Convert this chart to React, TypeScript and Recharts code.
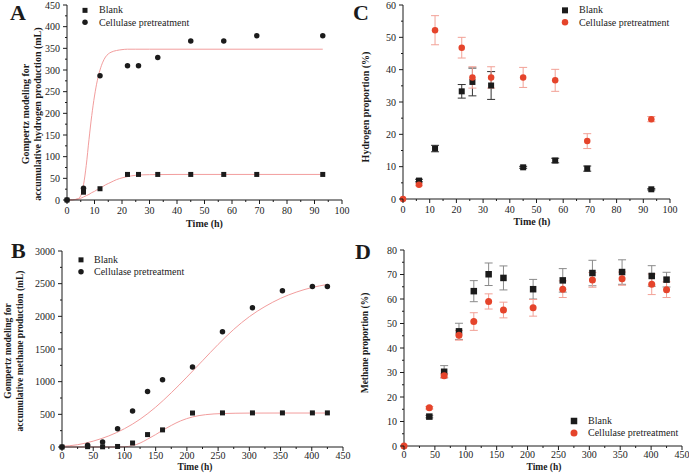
import React from 'react';
import { ComposedChart, Scatter, Line, XAxis, YAxis, ErrorBar, Legend } from 'recharts';

const FONT = '"Liberation Serif", "Times New Roman", Times, serif';
const INK = '#1b1b1b';
const RED = '#e5442b';
const RED_ERR = '#f2a196';
const FIT = '#f29d9d';

// A - accumulative hydrogen (Gompertz)
const aTime = [0, 6, 12, 22, 26, 33, 45, 57, 69, 93];
const aBlank = [0, 18, 26, 59, 59, 59, 59, 59, 59, 59];
const aCell = [0, 27, 287, 310, 310, 329, 367, 367, 379, 379];
const aFitTime = [0, 2, 4, 5, 6, 7, 8, 9, 10, 11, 12, 13, 14, 15, 16, 18, 20, 22, 25, 30, 40, 60, 93];
const aBlankFit = [0, 0.5, 2, 4, 7, 10, 13, 17, 20, 24, 28, 31, 35, 38, 41, 47, 51, 54, 57, 58.5, 59, 59, 59];
const aCellFit = [0, 0.5, 3, 10, 35, 80, 140, 195, 240, 275, 300, 318, 330, 337, 341, 345, 347, 348, 348, 348, 348, 348, 348];
const aXTicks = [0, 5, 10, 15, 20, 25, 30, 35, 40, 45, 50, 55, 60, 65, 70, 75, 80, 85, 90, 95, 100];
const aYTicks = [0, 25, 50, 75, 100, 125, 150, 175, 200, 225, 250, 275, 300, 325, 350, 375, 400, 425, 450];

// B - accumulative methane (Gompertz)
const bTime = [0, 41, 65, 89, 113, 137, 161, 209, 257, 305, 353, 401, 425];
const bBlank = [0, 5, 3, 8, 61, 190, 262, 520, 522, 522, 522, 522, 522];
const bCell = [0, 25, 75, 278, 550, 850, 1030, 1225, 1765, 2130, 2390, 2455, 2455];
const bBlankFitTime = [0, 50, 90, 100, 113, 125, 137, 150, 161, 175, 190, 209, 230, 257, 300, 350, 425];
const bBlankFit = [0, 0, 0, 3, 20, 60, 120, 190, 255, 330, 400, 460, 495, 512, 519, 520, 520];
const bCellFitTime = [0, 25, 50, 75, 100, 125, 150, 175, 200, 225, 250, 275, 300, 325, 350, 375, 400, 425];
const bCellFit = [10, 35, 90, 170, 280, 425, 610, 830, 1070, 1320, 1570, 1800, 1995, 2150, 2275, 2370, 2440, 2488];
const bXTicks = [0, 25, 50, 75, 100, 125, 150, 175, 200, 225, 250, 275, 300, 325, 350, 375, 400, 425, 450];
const bYTicks = [0, 250, 500, 750, 1000, 1250, 1500, 1750, 2000, 2250, 2500, 2750, 3000];

// C - hydrogen proportion
const cBlankTime = [6, 12, 22, 26, 33, 45, 57, 69, 93];
const cBlank = [5.7, 15.6, 33.3, 36.2, 35.1, 9.8, 11.9, 9.4, 3.0];
const cBlankErr = [0.4, 1.0, 2.1, 4.3, 4.3, 0.3, 0.7, 0.8, 0.2];
const cCellTime = [0, 6, 12, 22, 26, 33, 45, 57, 69, 93];
const cCell = [0, 4.4, 52.2, 46.8, 37.6, 37.6, 37.6, 36.7, 17.9, 24.7];
const cCellErr = [0, 0.3, 4.5, 3.2, 3.3, 3.3, 3.1, 3.4, 2.3, 0.8];
const cXTicks = aXTicks;
const cYTicks = [0, 5, 10, 15, 20, 25, 30, 35, 40, 45, 50, 55, 60];

// D - methane proportion
const dBlankTime = [41, 65, 89, 113, 137, 161, 209, 257, 305, 353, 401, 425];
const dBlank = [12.0, 30.3, 46.8, 63.2, 70.1, 68.6, 64.0, 67.6, 70.6, 71.0, 69.4, 67.9];
const dBlankErr = [0.5, 2.5, 3.3, 4.3, 4.6, 4.9, 4.0, 4.8, 5.2, 5.0, 4.2, 3.0];
const dCellTime = [0, 41, 65, 89, 113, 137, 161, 209, 257, 305, 353, 401, 425];
const dCell = [0, 15.6, 28.7, 45.2, 50.8, 59.0, 55.5, 56.4, 64.0, 67.8, 68.3, 66.0, 63.8];
const dCellErr = [0, 0.5, 0.8, 2.0, 3.6, 3.1, 3.2, 3.4, 3.4, 3.0, 2.7, 4.2, 3.2];
const dXTicks = bXTicks;
const dYTicks = [0, 5, 10, 15, 20, 25, 30, 35, 40, 45, 50, 55, 60, 65, 70, 75, 80];

const zip = (xs: number[], ys: number[], es?: number[]) =>
  xs.map((x, i) => ({ x, y: ys[i], e: es ? es[i] : 0 }));

const isMajor = (v: number, step: number) => Math.abs(v / step - Math.round(v / step)) < 1e-6;

const XTick = (props: any) => {
  const { x, y, payload, step, labelDy } = props;
  const v = payload.value;
  const major = isMajor(v, step);
  return (
    <g>
      <line x1={x} x2={x} y1={y} y2={y + (major ? 4 : 2)} stroke={INK} strokeWidth={1} />
      {major && (
        <text x={x} y={y + labelDy} textAnchor="middle" dominantBaseline="central" fontSize={10} fontFamily={FONT} fill={INK}>
          {v}
        </text>
      )}
    </g>
  );
};

const YTick = (props: any) => {
  const { x, y, payload, step } = props;
  const v = payload.value;
  const major = isMajor(v, step);
  return (
    <g>
      <line x1={x - (major ? 4 : 2)} x2={x} y1={y} y2={y} stroke={INK} strokeWidth={1} />
      {major && (
        <text x={x - 7} y={y} textAnchor="end" dominantBaseline="central" fontSize={10} fontFamily={FONT} fill={INK}>
          {v}
        </text>
      )}
    </g>
  );
};

const marker = (kind: string, size: number, color: string) => (p: any) =>
  kind === 'square' ? (
    <rect x={p.cx - size / 2} y={p.cy - size / 2} width={size} height={size} fill={color} />
  ) : (
    <circle cx={p.cx} cy={p.cy} r={size / 2} fill={color} />
  );

const LegendBox = ({ items, rowH, iconW }: any) => (
  <div style={{ fontFamily: FONT, fontSize: 10, color: INK }}>
    {items.map((it: any) => (
      <div key={it.label} style={{ display: 'flex', alignItems: 'center', height: rowH, whiteSpace: 'nowrap' }}>
        <svg width={iconW} height={rowH} style={{ display: 'block' }}>
          {it.kind === 'square' ? (
            <rect x={6 - it.size / 2} y={rowH / 2 - it.size / 2} width={it.size} height={it.size} fill={it.color} />
          ) : (
            <circle cx={6} cy={rowH / 2} r={it.size / 2} fill={it.color} />
          )}
        </svg>
        <span style={{ lineHeight: 1 }}>{it.label}</span>
      </div>
    ))}
  </div>
);

function Panel(cfg: any) {
  const {
    box, margin, yWidth, xHeight, xMax, yMax, xTicks, yTicks, xStep, yStep,
    fits, series, legend, xTitle, yTitle, labelDy, titleSize,
  } = cfg;
  const titleStyle = { fontFamily: FONT, fontWeight: 700, fontSize: titleSize, fill: INK };
  return (
    <div style={{ position: 'absolute', left: box.left, top: box.top, width: box.width, height: box.height }}>
      <ComposedChart width={box.width} height={box.height} margin={margin}>
        <XAxis
          type="number"
          dataKey="x"
          domain={[0, xMax]}
          ticks={xTicks}
          interval={0}
          height={xHeight}
          tickSize={0}
          tickMargin={0}
          tickLine={false}
          axisLine={{ stroke: INK }}
          tick={(p: any) => <XTick {...p} step={xStep} labelDy={labelDy} />}
          label={{
            content: () => (
              <text x={xTitle.x} y={xTitle.y} textAnchor="middle" dominantBaseline="central" {...titleStyle}>
                Time (h)
              </text>
            ),
          }}
        />
        <YAxis
          type="number"
          dataKey="y"
          domain={[0, yMax]}
          ticks={yTicks}
          interval={0}
          width={yWidth}
          tickSize={0}
          tickMargin={0}
          tickLine={false}
          axisLine={{ stroke: INK }}
          tick={(p: any) => <YTick {...p} step={yStep} />}
          label={{
            content: () => (
              <g>
                {yTitle.lines.map((l: string, i: number) => (
                  <text
                    key={l}
                    x={yTitle.xs[i]}
                    y={yTitle.cy}
                    transform={`rotate(-90 ${yTitle.xs[i]} ${yTitle.cy})`}
                    textAnchor="middle"
                    dominantBaseline="central"
                    {...titleStyle}
                  >
                    {l}
                  </text>
                ))}
              </g>
            ),
          }}
        />
        {fits.map((f: any, i: number) => (
          <Line
            key={'fit' + i}
            data={f}
            dataKey="y"
            type="monotone"
            stroke={FIT}
            strokeWidth={1}
            dot={false}
            activeDot={false}
            isAnimationActive={false}
          />
        ))}
        {series.map((s: any, i: number) => (
          <Scatter
            key={'s' + i}
            name={s.name}
            data={s.data}
            dataKey="y"
            shape={marker(s.kind, s.size, s.color)}
            isAnimationActive={false}
          >
            {s.errColor && <ErrorBar dataKey="e" direction="y" width={4} stroke={s.errColor} strokeWidth={1} />}
          </Scatter>
        ))}
        <Legend
          layout="vertical"
          align="center"
          verticalAlign="middle"
          wrapperStyle={{ left: legend.left, top: legend.top, width: 'auto', height: 'auto' }}
          content={() => <LegendBox items={legend.items} rowH={legend.rowH} iconW={legend.iconW} />}
        />
      </ComposedChart>
    </div>
  );
}

const legendItems = (size: number, cellColor: string, sqSize: number) => [
  { label: 'Blank', kind: 'square', color: INK, size: sqSize },
  { label: 'Cellulase pretreatment', kind: 'circle', color: cellColor, size },
];

export default function App() {
  return (
    <div style={{ position: 'absolute', left: 0, top: 0, width: 689, height: 473, background: '#fff', overflow: 'hidden' }}>
      <Panel
        box={{ left: 0, top: 0, width: 360, height: 236 }}
        margin={{ top: 5, right: 18, bottom: 0, left: 0 }}
        yWidth={67}
        xHeight={36}
        xMax={100}
        yMax={450}
        xTicks={aXTicks}
        yTicks={aYTicks}
        xStep={10}
        yStep={50}
        labelDy={10}
        titleSize={10}
        fits={[zip(aFitTime, aBlankFit), zip(aFitTime, aCellFit)]}
        series={[
          { name: 'Blank', data: zip(aTime, aBlank), kind: 'square', size: 5, color: INK },
          { name: 'Cellulase pretreatment', data: zip(aTime, aCell), kind: 'circle', size: 5.5, color: INK },
        ]}
        legend={{ left: 79, top: 10 - 6.35, rowH: 12.7, iconW: 20, items: legendItems(5.5, INK, 5) }}
        xTitle={{ x: 204.5, y: 223 }}
        yTitle={{ lines: ['Gompertz modeling for', 'accumulative hydrogen production (mL)'], xs: [25, 37], cy: 114 }}
      />
      <Panel
        box={{ left: 0, top: 236, width: 360, height: 237 }}
        margin={{ top: 15, right: 17, bottom: 0, left: 0 }}
        yWidth={62}
        xHeight={26}
        xMax={450}
        yMax={3000}
        xTicks={bXTicks}
        yTicks={bYTicks}
        xStep={50}
        yStep={500}
        labelDy={8.5}
        titleSize={9.5}
        fits={[zip(bBlankFitTime, bBlankFit), zip(bCellFitTime, bCellFit)]}
        series={[
          { name: 'Blank', data: zip(bTime, bBlank), kind: 'square', size: 5, color: INK },
          { name: 'Cellulase pretreatment', data: zip(bTime, bCell), kind: 'circle', size: 5.5, color: INK },
        ]}
        legend={{ left: 75, top: 24 - 5.85, rowH: 11.7, iconW: 19, items: legendItems(5.5, INK, 5) }}
        xTitle={{ x: 195, y: 231 }}
        yTitle={{ lines: ['Gompertz modeling for', 'accumulative methane production (mL)'], xs: [7.5, 19.5], cy: 115 }}
      />
      <Panel
        box={{ left: 345, top: 0, width: 344, height: 236 }}
        margin={{ top: 5, right: 19, bottom: 0, left: 0 }}
        yWidth={58}
        xHeight={37}
        xMax={100}
        yMax={60}
        xTicks={cXTicks}
        yTicks={cYTicks}
        xStep={10}
        yStep={10}
        labelDy={10}
        titleSize={10}
        fits={[]}
        series={[
          { name: 'Blank', data: zip(cBlankTime, cBlank, cBlankErr), kind: 'square', size: 6, color: INK, errColor: '#333' },
          { name: 'Cellulase pretreatment', data: zip(cCellTime, cCell, cCellErr), kind: 'circle', size: 6.5, color: RED, errColor: RED_ERR },
        ]}
        legend={{ left: 214, top: 10 - 6.35, rowH: 12.7, iconW: 20, items: legendItems(6.5, RED, 6) }}
        xTitle={{ x: 187, y: 221 }}
        yTitle={{ lines: ['Hydrogen proportion (%)'], xs: [20], cy: 107 }}
      />
      <Panel
        box={{ left: 345, top: 236, width: 344, height: 237 }}
        margin={{ top: 14, right: 7, bottom: 0, left: 0 }}
        yWidth={59}
        xHeight={27}
        xMax={450}
        yMax={80}
        xTicks={dXTicks}
        yTicks={dYTicks}
        xStep={50}
        yStep={10}
        labelDy={8.5}
        titleSize={9.5}
        fits={[]}
        series={[
          { name: 'Blank', data: zip(dBlankTime, dBlank, dBlankErr), kind: 'square', size: 6.5, color: INK, errColor: '#8a8a8a' },
          { name: 'Cellulase pretreatment', data: zip(dCellTime, dCell, dCellErr), kind: 'circle', size: 7, color: RED, errColor: RED_ERR },
        ]}
        legend={{ left: 223, top: 184.7 - 6, rowH: 12, iconW: 20, items: legendItems(7, RED, 6.5) }}
        xTitle={{ x: 199, y: 231 }}
        yTitle={{ lines: ['Methane proportion (%)'], xs: [20], cy: 107 }}
      />
      <svg width={689} height={473} style={{ position: 'absolute', left: 0, top: 0, pointerEvents: 'none' }}>
        <text x={10} y={20} fontFamily={FONT} fontWeight={700} fontSize={22} fill={INK}>A</text>
        <text x={11} y={258} fontFamily={FONT} fontWeight={700} fontSize={22} fill={INK}>B</text>
        <text x={353} y={20} fontFamily={FONT} fontWeight={700} fontSize={22} fill={INK}>C</text>
        <text x={355} y={259} fontFamily={FONT} fontWeight={700} fontSize={22} fill={INK}>D</text>
      </svg>
    </div>
  );
}
